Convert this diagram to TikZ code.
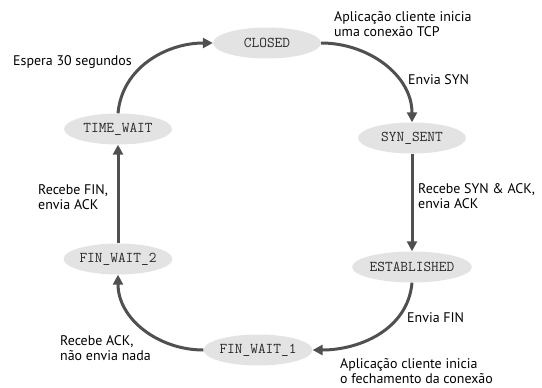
\documentclass[tikz,border=0pt]{standalone}
\usepackage{fontspec}
\setmainfont{PT Sans}
\usetikzlibrary{arrows.meta,shapes.geometric}
\definecolor{stfill}{HTML}{E3E3E3}
\definecolor{arrowgray}{HTML}{505050}
\definecolor{sttext}{HTML}{2A2A2A}
\tikzset{
  state/.style={ellipse, fill=stfill, draw=none, minimum width=108bp, minimum height=31bp, inner sep=0pt,
    font=\ttfamily\fontsize{15}{16}\selectfont, text=sttext},
  trans/.style={draw=arrowgray, line width=3bp, -{Triangle[length=10bp,width=10bp]}},
  lbl/.style={anchor=west, align=left, inner sep=0pt, font=\fontsize{14}{15}\selectfont, text=black}
}
\begin{document}
\begin{tikzpicture}[x=1bp,y=1bp]
\useasboundingbox (0,0) rectangle (542,387);
\fill[white] (0,0) rectangle (542,387);
\node[state] (closed) at (267,344) {CLOSED};
\node[state] (synsent) at (412,249) {SYN\_SENT};
\node[state] (estab) at (412,120) {ESTABLISHED};
\node[state] (fw1) at (258,37) {FIN\_WAIT\_1};
\node[state] (fw2) at (118,128) {FIN\_WAIT\_2};
\node[state] (tw) at (118,258) {TIME\_WAIT};

\draw[trans] (closed.east) to[out=0,in=90] (synsent.north);
\draw[trans] (synsent.south) -- (estab.north);
\draw[trans] (estab.south) to[out=-95,in=0] (fw1.east);
\draw[trans] (fw1.west) to[out=180,in=-90] (fw2.south);
\draw[trans] (fw2.north) -- (tw.south);
\draw[trans] (tw.north) to[out=85,in=180] (closed.west);

\node[lbl] (l1) at (334,363) {Aplicação cliente inicia\\uma conexão TCP};
\node[lbl] (l2) at (408,307) {Envia SYN};
\node[lbl] (l3) at (13,325) {Espera 30 segundos};
\node[lbl] (l4) at (418,191) {Recebe SYN \& ACK,\\envia ACK};
\node[lbl] (l5) at (38,190) {Recebe FIN,\\envia ACK};
\node[lbl] (l6) at (407,69) {Envia FIN};
\node[lbl] (l7) at (60,39) {Recebe ACK,\\não envia nada};
\node[lbl] (l8) at (340,16) {Aplicação cliente inicia\\o fechamento da conexão};
\end{tikzpicture}
\end{document}
